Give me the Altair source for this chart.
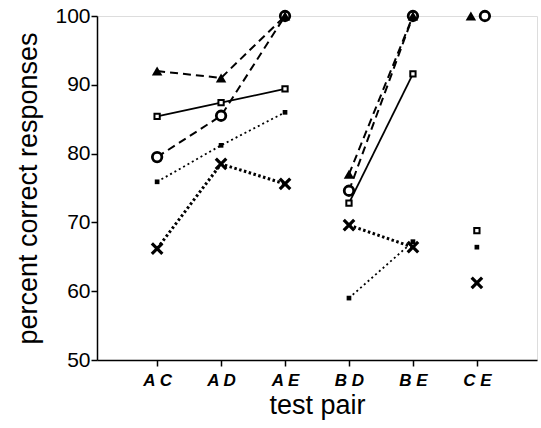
import altair as alt
import pandas as pd

pairs = ["A C", "A D", "A E", "B D", "B E", "C E"]
segments = ["s1", "s1", "s1", "s2", "s2", None]

tri = [92.0, 91.0, 100.0, 77.0, 100.0, 100.0]
sq = [85.4, 87.4, 89.4, 72.8, 91.6, 68.8]
circ = [79.5, 85.5, 100.0, 74.6, 100.0, 100.0]
ast = [75.9, 81.2, 86.0, 59.0, 67.2, 66.4]
xx = [66.2, 78.5, 75.6, 69.6, 66.4, 61.2]

FONT = "Liberation Sans"
xscale = alt.Scale(type="point", domain=pairs, padding=0.94)
yscale = alt.Scale(domain=[50, 100], nice=False, zero=False)

def frame(vals):
    return pd.DataFrame({"pair": pairs, "value": vals, "seg": segments})

X = alt.X("pair:N", scale=xscale, sort=pairs,
          axis=alt.Axis(title="test pair", labelAngle=0, labelFont=FONT, labelFontSize=17,
                        labelFontStyle="italic", labelFontWeight="bold", labelPadding=6,
                        titleFont=FONT, titleFontSize=27, titleFontWeight="normal", titlePadding=4,
                        tickSize=6, tickWidth=1.5, domainWidth=1.5, domainColor="black",
                        tickColor="black", labelColor="black", titleColor="black"))
Y = alt.Y("value:Q", scale=yscale,
          axis=alt.Axis(title="percent correct responses", values=[50, 60, 70, 80, 90, 100],
                        labelFont=FONT, labelFontSize=21, labelPadding=1, titleFont=FONT,
                        titleFontSize=27, titleFontWeight="normal", titlePadding=12,
                        tickSize=6, tickWidth=1.5, domainWidth=1.5, domainColor="black",
                        tickColor="black", labelColor="black", titleColor="black", grid=False))

xshape = "M-1,-1L1,1M1,-1L-1,1"

series = [
    (sq, dict(strokeWidth=1.8), dict(shape="square", filled=True, fill="white", stroke="black", strokeWidth=2, size=28), 0),
    (circ, dict(strokeDash=[8, 5], strokeWidth=2), dict(shape="circle", filled=True, fill="white", stroke="black", strokeWidth=2.8, size=90), 8),
    (tri, dict(strokeDash=[8, 5], strokeWidth=2), dict(shape="triangle-up", filled=True, size=110, color="black"), -6),
    (ast, dict(strokeDash=[2, 3], strokeWidth=1.8), dict(shape="square", filled=True, color="black", size=22), 0),
    (xx, dict(strokeDash=[2.5, 2.5], strokeWidth=3), dict(shape=xshape, filled=False, stroke="black", strokeWidth=3.2, size=110), 0),
]

layers = []
for vals, lstyle, pstyle, ce_dx in series:
    df = frame(vals)
    base = alt.Chart(df)
    layers.append(base.transform_filter("datum.seg != null").mark_line(color="black", **lstyle)
                  .encode(x=X, y=Y, detail="seg:N"))
    layers.append(base.transform_filter("datum.pair != 'C E'").mark_point(opacity=1, **pstyle)
                  .encode(x=X, y=Y))
    layers.append(base.transform_filter("datum.pair == 'C E'").mark_point(opacity=1, xOffset=ce_dx, **pstyle)
                  .encode(x=X, y=Y))

chart = alt.layer(*layers).properties(
    width=440, height=344,
    autosize=alt.AutoSizeParams(type="none"),
    padding={"left": 97, "top": 16, "right": 4, "bottom": 68},
).configure_view(stroke="black", strokeWidth=1.5).configure(background="white")

chart.save("out.html", embed_options={"renderer": "svg", "actions": False})
